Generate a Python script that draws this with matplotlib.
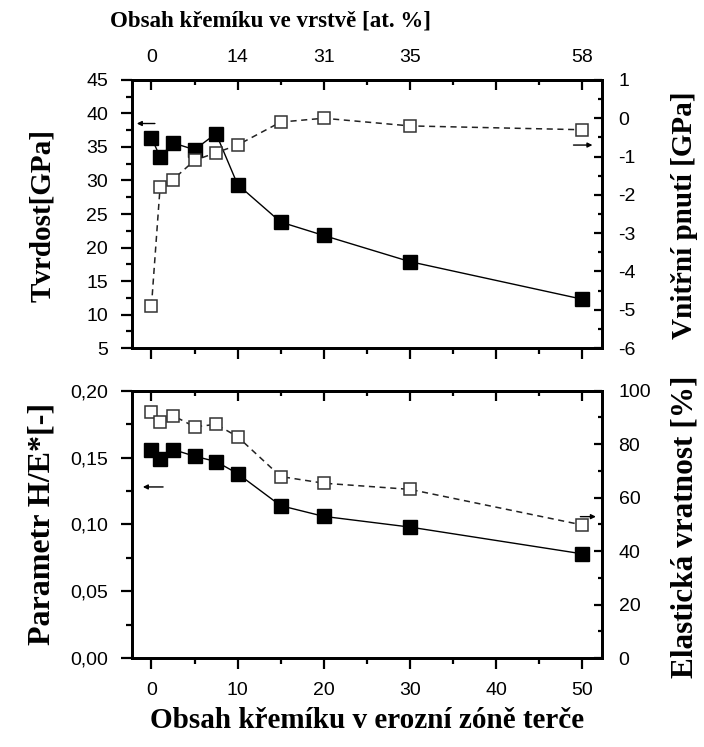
import matplotlib
matplotlib.use("Agg")
import matplotlib.pyplot as plt
from matplotlib.ticker import MultipleLocator, FuncFormatter

# obsah kremiku v erozni zone terce
si_target = [0, 1, 2.5, 5, 7.5, 10, 15, 20, 30, 50]
# tvrdost [GPa] a vnitrni pnuti [GPa]
hardness = [36.4, 33.5, 35.6, 34.6, 37.0, 29.4, 23.8, 21.8, 17.9, 12.3]
stress = [-4.9, -1.8, -1.6, -1.1, -0.9, -0.7, -0.1, 0.0, -0.2, -0.3]
# parametr H/E* a elasticka vratnost [%]
h_over_e = [0.156, 0.149, 0.156, 0.151, 0.147, 0.138, 0.114, 0.106, 0.098, 0.078]
elastic = [91.9, 88.2, 90.7, 86.5, 87.4, 82.8, 67.9, 65.4, 63.1, 49.8]

# horni osa - obsah kremiku ve vrstve
layer_ticks = [0, 10, 20, 30, 40, 50]
layer_labels = ["0", "14", "31", "35", "", "58"]

plt.rcParams["font.family"] = ["Liberation Sans", "DejaVu Sans"]
plt.rcParams["axes.unicode_minus"] = False

SERIF = ["Liberation Serif", "DejaVu Serif"]
TICK_FS = 14

fig = plt.figure(figsize=(7.04, 7.47), dpi=100)
ax1 = fig.add_axes([0.187, 0.534, 0.668, 0.359])
ax2 = fig.add_axes([0.187, 0.119, 0.668, 0.358])


def style_axes(ax, axr, top_labels):
    for a in (ax, axr):
        for s in a.spines.values():
            s.set_linewidth(2.0)
    ax.set_xlim(-2.3, 52.3)
    ax.xaxis.set_major_locator(MultipleLocator(10))
    ax.xaxis.set_minor_locator(MultipleLocator(5))
    ax.tick_params(axis="both", which="major", direction="out", length=8,
                   width=1.6, labelsize=TICK_FS, pad=9)
    ax.tick_params(axis="both", which="minor", direction="out", length=4,
                   width=1.6)
    axr.tick_params(axis="y", which="major", direction="in", length=6,
                    width=1.6, labelsize=TICK_FS, pad=12)
    axr.tick_params(axis="y", which="minor", direction="in", length=3,
                    width=1.6)
    top = ax.secondary_xaxis("top")
    top.set_xticks(layer_ticks, labels=top_labels if top_labels else [""] * 6)
    top.xaxis.set_minor_locator(MultipleLocator(5))
    top.tick_params(which="major", direction="in", length=7, width=1.6,
                    labelsize=TICK_FS, pad=10)
    top.tick_params(which="minor", direction="in", length=3.5, width=1.6)
    top.spines["top"].set_linewidth(2.0)


def add_arrow(ax, x0, x1, y):
    ax.annotate("", xy=(x1, y), xytext=(x0, y), annotation_clip=False,
                arrowprops=dict(arrowstyle="-|>", color="black", lw=1.0,
                                mutation_scale=7, shrinkA=0, shrinkB=0))


# horni graf: tvrdost a vnitrni pnuti
ax1r = ax1.twinx()
ax1.plot(si_target, hardness, color="black", lw=1.0, marker="s",
         markersize=10, markerfacecolor="black", zorder=3)
ax1r.plot(si_target, stress, color="#222222", lw=1.1, ls=(0, (4, 3)),
          marker="s", markersize=8.5, markerfacecolor="white",
          markeredgecolor="#333333", markeredgewidth=1.1)
ax1.set_ylim(5, 45)
ax1.yaxis.set_major_locator(MultipleLocator(5))
ax1.yaxis.set_minor_locator(MultipleLocator(2.5))
ax1r.set_ylim(-6, 1)
ax1r.yaxis.set_major_locator(MultipleLocator(1))
ax1r.yaxis.set_minor_locator(MultipleLocator(0.5))
style_axes(ax1, ax1r, layer_labels)
ax1.tick_params(axis="x", labelbottom=False)
add_arrow(ax1, 0.4, -1.7, 38.5)
add_arrow(ax1r, 49.0, 51.2, -0.7)

# dolni graf: H/E* a elasticka vratnost
ax2r = ax2.twinx()
ax2.plot(si_target, h_over_e, color="black", lw=1.0, marker="s",
         markersize=10, markerfacecolor="black", zorder=3)
ax2r.plot(si_target, elastic, color="#222222", lw=1.1, ls=(0, (4, 3)),
          marker="s", markersize=8.5, markerfacecolor="white",
          markeredgecolor="#333333", markeredgewidth=1.1)
ax2.set_ylim(0, 0.20)
ax2.yaxis.set_major_locator(MultipleLocator(0.05))
ax2.yaxis.set_minor_locator(MultipleLocator(0.025))
ax2.yaxis.set_major_formatter(FuncFormatter(lambda v, p: f"{v:.2f}".replace(".", ",")))
ax2r.set_ylim(0, 100)
ax2r.yaxis.set_major_locator(MultipleLocator(20))
ax2r.yaxis.set_minor_locator(MultipleLocator(10))
style_axes(ax2, ax2r, None)
add_arrow(ax2, 1.35, -1.0, 0.128)
add_arrow(ax2r, 49.8, 51.6, 52.9)

# popisky os
fig.text(0.384, 0.972, "Obsah křemíku ve vrstvě [at. %]", family=SERIF,
         fontweight="bold", fontsize=16.5, ha="center", va="center")
fig.text(0.521, 0.036, "Obsah křemíku v erozní zóně terče", family=SERIF,
         fontweight="bold", fontsize=21, ha="center", va="center")
fig.text(0.060, 0.712, "Tvrdost[GPa]", family=SERIF, fontweight="bold",
         fontsize=21, rotation=90, ha="center", va="center")
fig.text(0.060, 0.298, "Parametr H/E*[-]", family=SERIF, fontweight="bold",
         fontsize=23, rotation=90, ha="center", va="center")
fig.text(0.973, 0.712, "Vnitřní pnutí [GPa]", family=SERIF, fontweight="bold",
         fontsize=21, rotation=90, ha="center", va="center")
fig.text(0.973, 0.295, "Elastická vratnost [%]", family=SERIF, fontweight="bold",
         fontsize=22.5, rotation=90, ha="center", va="center")

fig.savefig("out.png", dpi=100)
